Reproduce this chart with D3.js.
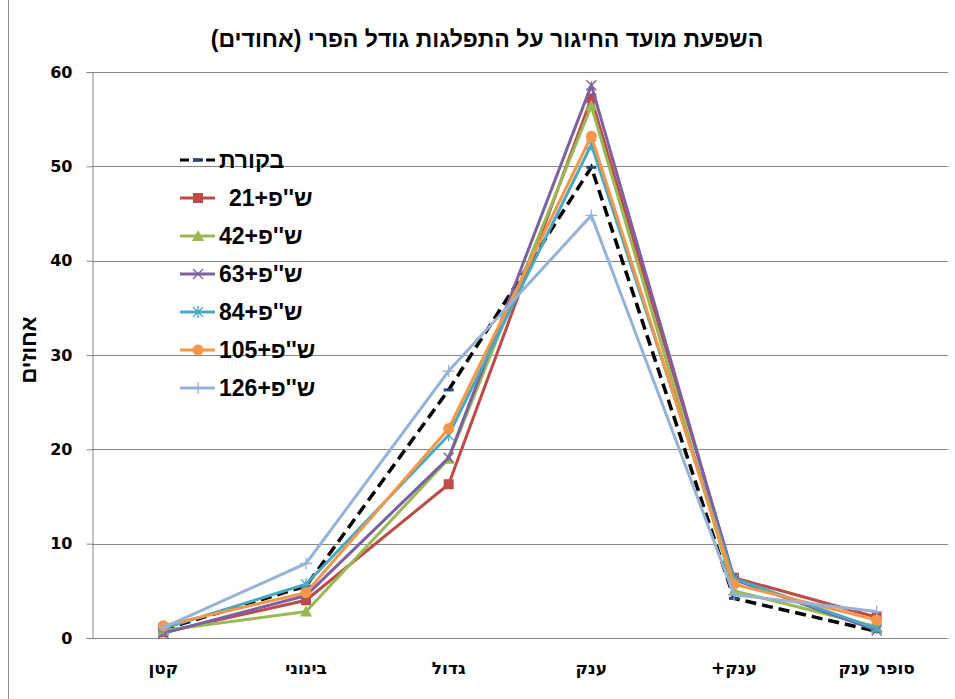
<!DOCTYPE html>
<html>
<head>
<meta charset="utf-8">
<script src="https://cdn.jsdelivr.net/npm/d3@7"></script>
<style>
  body { margin: 0; background: #fff; }
  text { font-family: "Liberation Sans", Arial, sans-serif; }
</style>
</head>
<body>
<div id="chart"></div>
<script>
const categories = ["קטן", "בינוני", "גדול", "ענק", "ענק+", "סופר ענק"];
const seriesNames = ["בקורת", "ש''פ+21", "ש''פ+42", "ש''פ+63", "ש''פ+84", "ש''פ+105", "ש''פ+126"];
const control = [0.9, 5.5, 26.3, 49.9, 4.2, 0.7];
const dafa21 = [0.6, 4.0, 16.3, 57.2, 6.4, 2.2];
const dafa42 = [0.8, 2.8, 19.0, 56.4, 5.0, 1.2];
const dafa63 = [0.5, 4.5, 19.1, 58.6, 6.2, 0.8];
const dafa84 = [1.0, 5.7, 21.5, 52.3, 6.3, 1.0];
const dafa105 = [1.3, 4.8, 22.2, 53.2, 5.7, 1.9];
const dafa126 = [1.1, 7.9, 28.3, 44.8, 4.6, 2.8];
const yTicks = [0, 10, 20, 30, 40, 50, 60];

const colors = ["#000000", "#BE4B48", "#98B954", "#7D60A0", "#46AAC5", "#F79646", "#95B3D7"];
const markers = ["dash", "square", "triangle", "cross", "asterisk", "circle", "plus"];
const allValues = [control, dafa21, dafa42, dafa63, dafa84, dafa105, dafa126];

const width = 955, height = 699;
const margin = {top: 72, right: 7, bottom: 61, left: 92};

const svg = d3.select("#chart")
    .append("svg")
    .attr("width", width)
    .attr("height", height);

// outer frame line on the left
svg.append("line")
    .attr("x1", 8.5).attr("x2", 8.5)
    .attr("y1", 0).attr("y2", height)
    .attr("stroke", "#8c8c8c");

const x = d3.scalePoint()
    .domain(categories)
    .range([margin.left, width - margin.right])
    .padding(0.5);

const y = d3.scaleLinear()
    .domain([0, 60])
    .range([height - margin.bottom, margin.top]);

// gridlines
svg.append("g")
    .selectAll("line")
    .data(yTicks)
    .enter()
    .append("line")
    .attr("x1", margin.left)
    .attr("x2", width - margin.right)
    .attr("y1", d => Math.round(y(d)) + 0.5)
    .attr("y2", d => Math.round(y(d)) + 0.5)
    .attr("stroke", "#868686");

// y axis
const yAxis = svg.append("g")
    .attr("transform", `translate(${margin.left + 0.5}, 0)`)
    .call(d3.axisLeft(y).tickValues(yTicks).tickSize(6).tickPadding(14));
yAxis.select(".domain").attr("stroke", "#868686");
yAxis.selectAll(".tick line").attr("stroke", "#868686");
yAxis.selectAll(".tick text")
    .style("font-family", "'DejaVu Sans', Verdana, sans-serif")
    .style("font-size", "16px")
    .style("font-weight", "bold")
    .attr("fill", "#000");

// x axis labels
svg.append("g")
    .selectAll("text")
    .data(categories)
    .enter()
    .append("text")
    .attr("x", d => x(d))
    .attr("y", height - margin.bottom + 36)
    .attr("text-anchor", "middle")
    .attr("direction", "rtl")
    .style("font-family", "'DejaVu Sans', sans-serif")
    .style("font-size", "17px")
    .style("font-weight", "bold")
    .text(d => d);

const line = d3.line()
    .x((d, i) => x(categories[i]))
    .y(d => y(d));

function drawMarker(g, type, color) {
    if (type === "dash") {
        g.append("rect").attr("x", -5).attr("y", -1.5).attr("width", 10).attr("height", 3).attr("fill", "#1F497D");
    } else if (type === "square") {
        g.append("rect").attr("x", -5).attr("y", -5).attr("width", 10).attr("height", 10).attr("fill", color);
    } else if (type === "triangle") {
        g.append("path").attr("d", "M0,-6L6,5L-6,5Z").attr("fill", color);
    } else if (type === "circle") {
        g.append("circle").attr("r", 5.5).attr("fill", color);
    } else if (type === "cross") {
        g.append("path").attr("d", "M-5,-5L5,5M-5,5L5,-5").attr("stroke", color).attr("stroke-width", 1.3);
    } else if (type === "asterisk") {
        g.append("path").attr("d", "M-5,-5L5,5M-5,5L5,-5M0,-6L0,6").attr("stroke", color).attr("stroke-width", 1.3);
    } else if (type === "plus") {
        g.append("path").attr("d", "M-6,0L6,0M0,-6L0,6").attr("stroke", color).attr("stroke-width", 1.3);
    }
}

allValues.forEach((vals, s) => {
    svg.append("path")
        .datum(vals)
        .attr("fill", "none")
        .attr("stroke", colors[s])
        .attr("stroke-width", s === 0 ? 3.5 : 3)
        .attr("stroke-dasharray", s === 0 ? "11,6" : null)
        .attr("d", line);
    vals.forEach((v, i) => {
        const g = svg.append("g").attr("transform", `translate(${x(categories[i])}, ${y(v)})`);
        drawMarker(g, markers[s], colors[s]);
    });
});

// legend
const legend = svg.append("g");
seriesNames.forEach((name, s) => {
    const ly = 160 + s * 38;
    const lg = legend.append("g").attr("transform", `translate(0, ${ly})`);
    lg.append("line")
        .attr("x1", 180).attr("x2", 215)
        .attr("y1", 0).attr("y2", 0)
        .attr("stroke", colors[s])
        .attr("stroke-width", 3)
        .attr("stroke-dasharray", s === 0 ? "9,4" : null);
    const mg = lg.append("g").attr("transform", "translate(198, 0)");
    drawMarker(mg, markers[s], colors[s]);
    lg.append("text")
        .attr("x", s === 1 ? 229 : 219)
        .attr("y", 8)
        .style("font-size", "23px")
        .style("font-weight", "bold")
        .text(name);
});

// y axis title
svg.append("text")
    .attr("transform", "translate(36, 350) rotate(-90)")
    .attr("text-anchor", "middle")
    .style("font-size", "22px")
    .style("font-weight", "bold")
    .text("אחוזים");

// chart title
svg.append("text")
    .attr("x", 487)
    .attr("y", 47)
    .attr("text-anchor", "middle")
    .style("font-size", "23px")
    .style("font-weight", "bold")
    .text("השפעת מועד החיגור על התפלגות גודל הפרי (אחודים)");
</script>
</body>
</html>
